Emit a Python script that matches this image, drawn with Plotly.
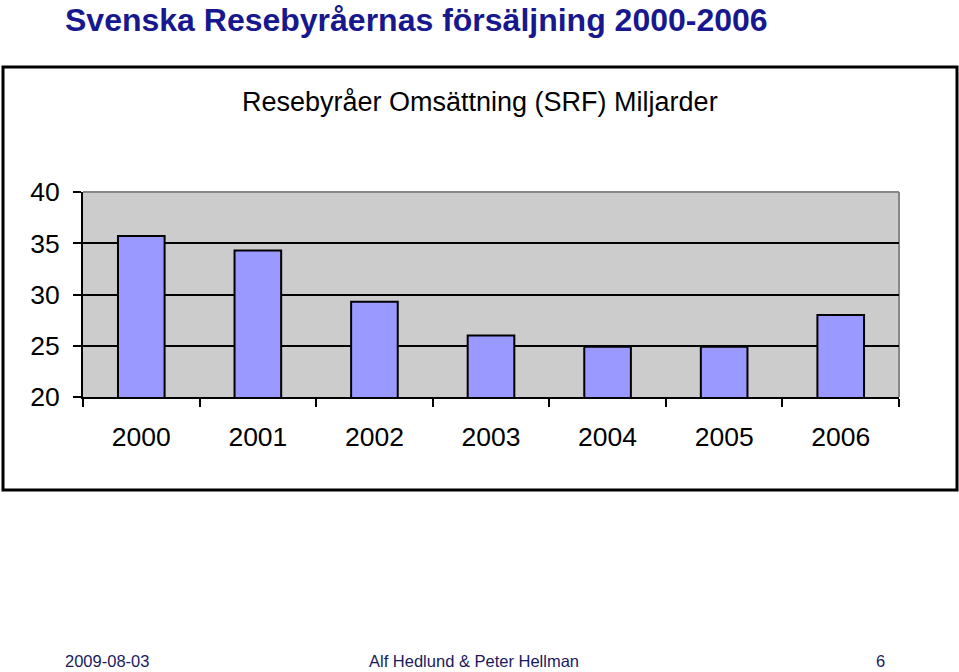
import plotly.graph_objects as go

years = ["2000", "2001", "2002", "2003", "2004", "2005", "2006"]
values = [35.7, 34.3, 29.3, 26.0, 24.9, 24.9, 28.0]
y_ticks = [20, 25, 30, 35, 40]

# plot area in pixels
L, R, T, B = 83, 899, 192, 397
W, H = R - L, B - T


def px(x):
    return (x - L) / W


def py(y):
    return (B - y) / H


fig = go.Figure()
fig.add_trace(go.Bar(
    x=years, y=values, base=0,
    marker=dict(color="#9999FF", line=dict(color="black", width=2)),
    width=0.4,
))

FONT = "Liberation Sans, Arial, sans-serif"

fig.update_layout(
    width=959, height=672,
    margin=dict(l=L, r=959 - R, t=T, b=672 - B),
    paper_bgcolor="white",
    plot_bgcolor="#CCCCCC",
    showlegend=False,
    font=dict(family=FONT, color="black"),
    xaxis=dict(
        type="category", tickson="boundaries", ticks="outside", ticklen=8,
        tickwidth=2, tickcolor="black", showline=True, linecolor="black",
        linewidth=2, showgrid=False, tickfont=dict(size=26.5, family=FONT),
        ticklabelstandoff=15, fixedrange=True,
    ),
    yaxis=dict(
        range=[20, 40], tickvals=y_ticks, ticks="outside", ticklen=8,
        tickwidth=2, tickcolor="black", showline=True, linecolor="black",
        linewidth=2, showgrid=True, gridcolor="black", gridwidth=2,
        zeroline=False, tickfont=dict(size=26.5, family=FONT),
        ticklabelstandoff=8, fixedrange=True,
    ),
    shapes=[
        # plot area border (gray) top and right
        dict(type="line", xref="paper", yref="paper", x0=0, x1=1, y0=1, y1=1,
             line=dict(color="#888888", width=2), layer="below"),
        dict(type="line", xref="paper", yref="paper", x0=1, x1=1, y0=0, y1=1,
             line=dict(color="#888888", width=2), layer="below"),
        # outer chart box
        dict(type="rect", xref="paper", yref="paper",
             x0=px(3), x1=px(957), y0=py(490), y1=py(67),
             line=dict(color="black", width=3)),
    ],
    annotations=[
        dict(text="<b>Svenska Resebyråernas försäljning 2000-2006</b>",
             xref="paper", yref="paper", x=px(63), y=py(0),
             xanchor="left", yanchor="top", showarrow=False,
             font=dict(size=32, color="#18188E", family=FONT)),
        dict(text="Resebyråer Omsättning (SRF) Miljarder",
             xref="paper", yref="paper", x=px(480), y=py(102),
             xanchor="center", yanchor="middle", showarrow=False,
             font=dict(size=27, color="black", family=FONT)),
        dict(text="2009-08-03", xref="paper", yref="paper",
             x=px(63), y=py(661), xanchor="left", yanchor="middle",
             showarrow=False, font=dict(size=16.5, color="#1A1A5E", family=FONT)),
        dict(text="Alf Hedlund &amp; Peter Hellman", xref="paper", yref="paper",
             x=px(474), y=py(661), xanchor="center", yanchor="middle",
             showarrow=False, font=dict(size=16.5, color="#1A1A5E", family=FONT)),
        dict(text="6", xref="paper", yref="paper",
             x=px(880), y=py(661), xanchor="center", yanchor="middle",
             showarrow=False, font=dict(size=16.5, color="#1A1A5E", family=FONT)),
    ],
)

fig.write_html("out.html")
